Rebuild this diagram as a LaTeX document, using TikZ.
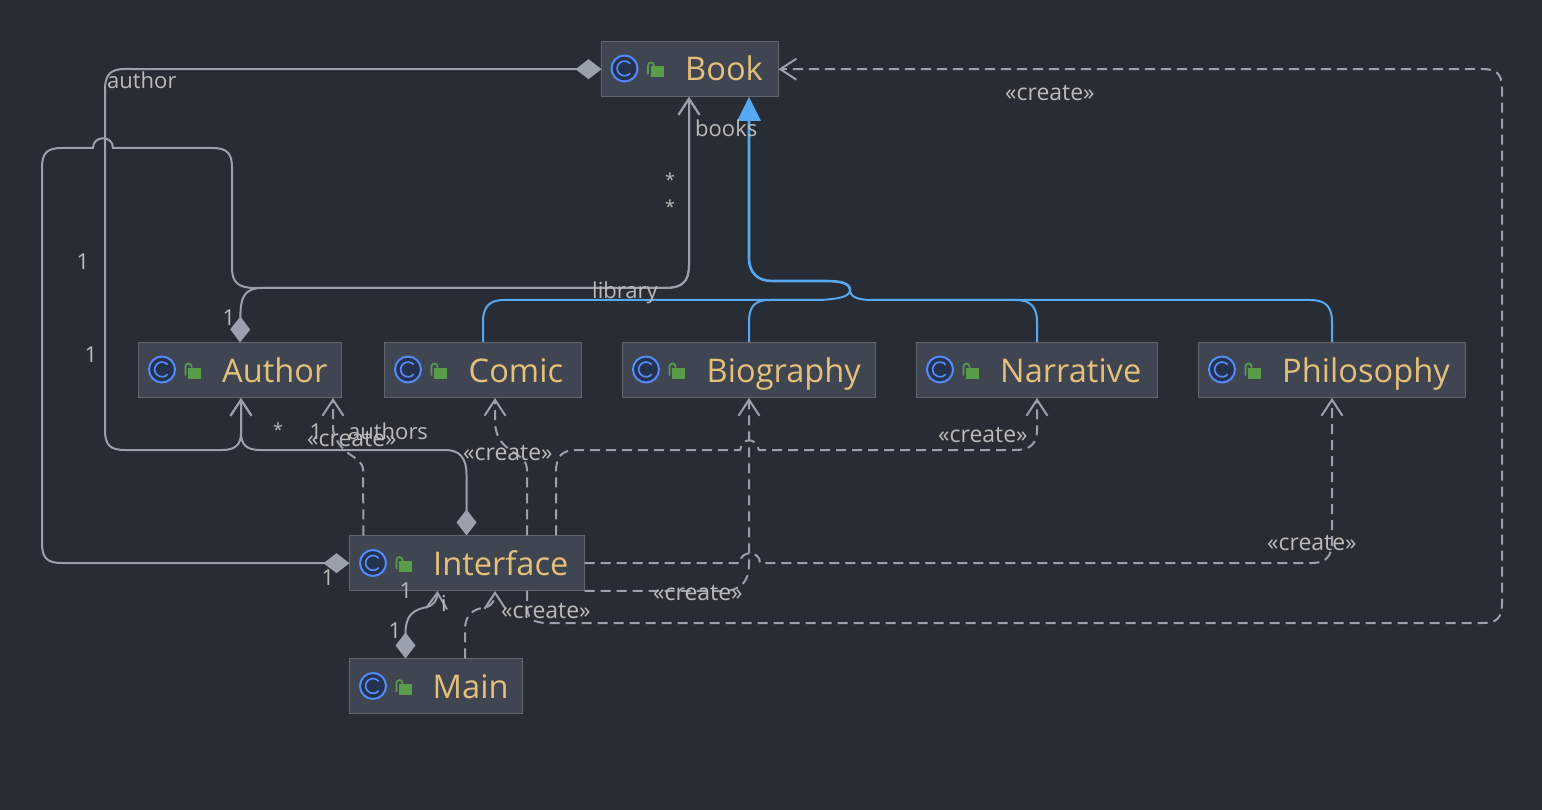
\documentclass[tikz,border=0pt]{standalone}
\usepackage{fontspec}
\setmainfont{Open Sans}
\usetikzlibrary{arrows.meta,calc}
\definecolor{bgc}{HTML}{282C34}
\definecolor{nodefill}{HTML}{3F4551}
\definecolor{nodeline}{HTML}{62656B}
\definecolor{namec}{HTML}{E5C07B}
\definecolor{linec}{HTML}{9AA0AC}
\definecolor{labelc}{HTML}{BBBBBB}
\definecolor{bluec}{HTML}{56A8F0}
\definecolor{iconb}{HTML}{548AF7}
\definecolor{iconf}{HTML}{25324D}
\definecolor{lockc}{HTML}{5A9C4A}
\tikzset{
  clsbox/.style={draw=nodeline,fill=nodefill,line width=1pt,minimum height=55.5pt,inner sep=0pt,outer sep=0pt},
  nametext/.style={anchor=base west,text=namec,font=\fontsize{32.6}{33}\selectfont,inner sep=0pt},
  lab/.style={text=labelc,font=\fontsize{22}{22}\selectfont,inner sep=0pt},
  crlab/.style={text=labelc,font=\fontsize{23}{23}\selectfont,inner sep=0pt,anchor=base west},
  starlab/.style={text=labelc,font=\fontsize{18}{18}\selectfont,inner sep=0pt},
  assoc/.style={draw=linec,line width=2pt},
  dep/.style={draw=linec,line width=2pt,dash pattern=on 10pt off 6pt},
  inh/.style={draw=bluec,line width=2pt},
  diam/.tip={Diamond[length=26pt,width=20pt,fill=linec,line width=0pt]},
  barb/.tip={Straight Barb[length=16pt,width=21pt,line width=2pt]},
  clsicon/.pic={
    \fill[iconf] (24,0) circle (13pt);
    \draw[iconb,line width=2pt] (24,0) circle (13pt);
    \draw[iconb,line width=1.7pt] (29.7,-4.8) arc (40:320:7.4pt);
    \fill[lockc] (50,-2) rectangle (63,9);
    \draw[lockc,line width=1.7pt] (47.5,6) -- (47.5,-3) arc (180:0:3pt) -- (53.5,-2);
  }
}
\begin{document}
\begin{tikzpicture}[x=1pt,y=-1pt]
\useasboundingbox[fill=bgc] (0,0) rectangle (1542,810);

% inheritance
\draw[inh] (483,342) -- (483,322) .. controls (483,306) and (490,300) .. (504,300) -- (820,300) .. controls (838,299) and (850,297) .. (850,290);
\draw[inh] (749,342) -- (749,322) .. controls (749,306) and (755,300) .. (770,300) -- (822,300);
\draw[inh] (1037,342) -- (1037,322) .. controls (1037,306) and (1030,300) .. (1015,300) -- (872,300) .. controls (858,300) and (850,297) .. (850,290);
\draw[inh] (1332,342) -- (1332,322) .. controls (1332,306) and (1325,300) .. (1310,300) -- (872,300);
\draw[inh,line width=2.6pt] (850,290) .. controls (850,283) and (840,281) .. (825,281) -- (772,281) .. controls (757,281) and (749,272) .. (749,258) -- (749,112);
\fill[bluec] (749,97) -- (761,121) -- (737,121) -- cycle;

% boxes
\node[clsbox,minimum width=177pt] (book) at (690,69.2) {};
\node[clsbox,minimum width=203pt] (author) at (240,370.2) {};
\node[clsbox,minimum width=197pt] (comic) at (483,370.2) {};
\node[clsbox,minimum width=253pt] (bio) at (749,370.2) {};
\node[clsbox,minimum width=241pt] (narr) at (1037,370.2) {};
\node[clsbox,minimum width=267pt] (phil) at (1332,370.2) {};
\node[clsbox,minimum width=235pt] (iface) at (467,563.2) {};
\node[clsbox,minimum width=173pt] (main) at (436,686.2) {};

\node[nametext] (n1) at (685,81) {Book};
\node[nametext] (n2) at (222,382) {Author};
\node[nametext] (n3) at (468.5,382) {Comic};
\node[nametext] (n4) at (706.5,382) {Biography};
\node[nametext] (n5) at (1000,382) {Narrative};
\node[nametext] (n6) at (1282,382) {Philosophy};
\node[nametext] (n7) at (433,575) {Interface};
\node[nametext] (n8) at (432.5,698) {Main};

\pic at (600.5,68.5) {clsicon};
\pic at (138,369.5) {clsicon};
\pic at (384,369.5) {clsicon};
\pic at (622,369.5) {clsicon};
\pic at (916,369.5) {clsicon};
\pic at (1198,369.5) {clsicon};
\pic at (349,563) {clsicon};
\pic at (349,686) {clsicon};

% associations
\draw[assoc,{diam}-{barb}] (book.west) -- (125,69) .. controls (110,69) and (105,75) .. (105,90) -- (105,430) .. controls (105,445) and (110,450) .. (125,450) -- (222,450) .. controls (235,450) and (241,445) .. (241,433) -- ($(author.south)+(1,0)$);
\draw[assoc,{diam}-{barb}] (author.north) -- (240.5,312) .. controls (241,296) and (246,288) .. (262,288) -- (665,288) .. controls (682,288) and (689,282) .. (689,265) -- ($(book.south)+(-1,0)$);
\draw[assoc,{diam}-{barb}] (iface.west) -- (62,563) .. controls (47,563) and (42,558) .. (42,543) -- (42,168) .. controls (42,153) and (47,148) .. (62,148) -- (93,148) .. controls (93,135) and (113,135) .. (113,148) -- (212,148) .. controls (227,148) and (232,153) .. (232,168) -- (232,268) .. controls (232,282) and (238,288) .. (255,288) -- (665,288) .. controls (682,288) and (689,282) .. (689,265) -- ($(book.south)+(-1,0)$);
\draw[assoc,{diam}-{barb}] ($(iface.north)+(-0.5,0)$) -- (466.5,475) .. controls (466.5,458) and (460,450) .. (445,450) -- (260,450) .. controls (247,450) and (241,445) .. (241,433) -- ($(author.south)+(1,0)$);
\draw[assoc,{diam}-{barb}] ($(main.north)+(-30.5,0)$) -- (405.5,632) .. controls (406,616) and (412,610) .. (427,607) .. controls (434,605) and (437,600) .. ($(iface.south)+(-29.5,0)$);

% dependencies
\draw[dep,-{barb}] ($(iface.north)+(-103.5,0)$) -- (363,470) .. controls (363,455) and (340,458) .. (333,430) -- ($(author.south)+(93,0)$);
\draw[dep,-{barb}] ($(iface.north)+(60,0)$) -- (527,470) .. controls (527,450) and (497,455) .. (495,423) -- ($(comic.south)+(12,0)$);
\draw[dep,-{barb}] ($(iface.north)+(89,0)$) -- (556,472) .. controls (556,456) and (562,450) .. (577,450) -- (740,450) .. controls (743,437) and (755,437) .. (759,450) -- (1015,450) .. controls (1030,450) and (1037,444) .. (1037,430) -- (narr.south);
\draw[dep,-{barb}] (iface.east) -- (740,563) .. controls (740,550) and (760,550) .. (760,563) -- (1312,563) .. controls (1326,563) and (1332,556) .. (1332,542) -- (phil.south);
\draw[dep,-{barb}] (iface.south east) -- (722,591) .. controls (740,591) and (749,582) .. (749,565) -- (bio.south);
\draw[dep,-{barb}] ($(iface.south)+(60,0)$) -- (527,605) .. controls (527,618) and (532,623) .. (548,623) -- (1482,623) .. controls (1497,623) and (1502,618) .. (1502,603) -- (1502,89) .. controls (1502,74) and (1497,69) .. (1482,69) -- (book.east);
\draw[dep,-{barb}] ($(main.north)+(29,0)$) -- (465,630) .. controls (465,615) and (472,609) .. (487,607) .. controls (492,605) and (495,600) .. ($(iface.south)+(28,0)$);

% labels
\node[lab,anchor=base west] (l1) at (107,89) {author};
\node[lab,anchor=base west] (l2) at (695,137) {books};
\node[starlab] (l3) at (670,179.5) {*};
\node[starlab] (l4) at (670,206.5) {*};
\node[lab] (l5) at (83,261.5) {1};
\node[lab] (l6) at (91,354.5) {1};
\node[lab] (l7) at (229,317.5) {1};
\node[lab,anchor=base west] (l8) at (592,298.5) {library};
\node[starlab] (l9) at (278,429.5) {*};
\node[lab] (l10) at (316,431.5) {1};
\node[lab,anchor=base west] (l11) at (348,439.5) {authors};
\node[crlab] (l12) at (307,446.5) {«create»};
\node[crlab] (l13) at (463,460.5) {«create»};
\node[crlab] (l14) at (938,442.5) {«create»};
\node[crlab] (l15) at (1005,100.5) {«create»};
\node[crlab] (l16) at (1267,550.5) {«create»};
\node[crlab] (l17) at (653,600.5) {«create»};
\node[crlab] (l18) at (501,618.5) {«create»};
\node[lab] (l19) at (328,577.5) {1};
\node[lab] (l20) at (406,590.5) {1};
\node[lab] (l21) at (395,630.5) {1};
\node[lab] (l22) at (444,603) {i};
\end{tikzpicture}
\end{document}
